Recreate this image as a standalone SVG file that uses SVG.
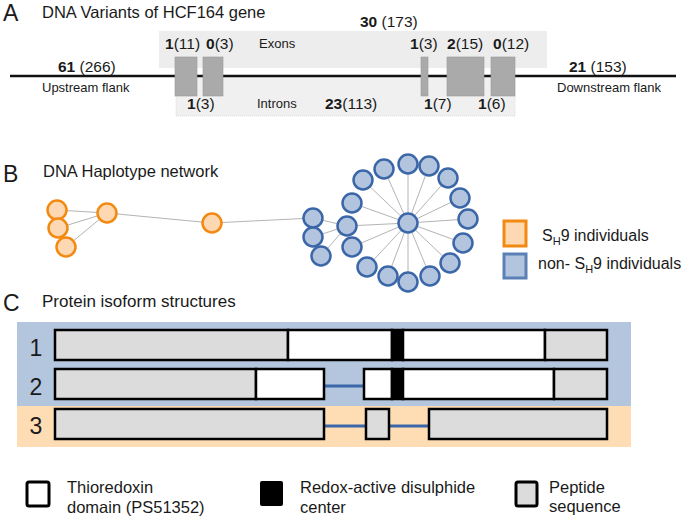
<svg xmlns="http://www.w3.org/2000/svg" width="685" height="519" viewBox="0 0 685 519">
<style>
text{font-family:"Liberation Sans",Arial,sans-serif;fill:#1a1a1a}
.lab{font-size:23px}
.ttl{font-size:16.5px}
.num{font-size:15.5px}
.num tspan.b{font-weight:bold}
.sm{font-size:13px}
.blk{fill:#aaaaaa;stroke:#999;stroke-width:0.6}
.edge{stroke:#b4b4b4;stroke-width:1;fill:none}
.on{fill:#fdd8b2;stroke:#f28a12;stroke-width:2.5}
.bn{fill:#b3c5de;stroke:#3b67a9;stroke-width:2.5}
.seg{stroke:#000;stroke-width:2.5}
.g{fill:#dcdcdc}
.w{fill:#fff}
.k{fill:#000}
.link{stroke:#3b67a9;stroke-width:3}
.leg{font-size:16.5px}
.legb{font-size:16px}
</style>

<!-- Panel A -->
<g id="panelA">
<text class="lab" x="3" y="21">A</text>
<text class="ttl" x="42" y="18">DNA Variants of HCF164 gene</text>
<rect x="159" y="31" width="388" height="37" fill="#ededed"/>
<rect x="176" y="77" width="339" height="39" fill="#f0f0f0" stroke="#d8d8d8" stroke-width="0.8" stroke-dasharray="1,1"/>
<line x1="10" y1="76" x2="676" y2="76" stroke="#111" stroke-width="2.5"/>
<rect class="blk" x="175" y="57" width="22" height="39"/>
<rect class="blk" x="203" y="57" width="20" height="39"/>
<rect class="blk" x="421" y="57" width="7" height="39"/>
<rect class="blk" x="447" y="57" width="37" height="39"/>
<rect class="blk" x="491" y="57" width="24" height="39"/>
<text class="num" x="360" y="27"><tspan class="b">30</tspan> (173)</text>
<text class="num" x="165" y="49"><tspan class="b">1</tspan>(11)</text>
<text class="num" x="206" y="49"><tspan class="b">0</tspan>(3)</text>
<text class="sm" x="259" y="48">Exons</text>
<text class="num" x="410" y="49"><tspan class="b">1</tspan>(3)</text>
<text class="num" x="447" y="49"><tspan class="b">2</tspan>(15)</text>
<text class="num" x="493" y="49"><tspan class="b">0</tspan>(12)</text>
<text class="num" x="58" y="72"><tspan class="b">61</tspan> (266)</text>
<text class="sm" x="42" y="92">Upstream flank</text>
<text class="num" x="569" y="72"><tspan class="b">21</tspan> (153)</text>
<text class="sm" x="557" y="92">Downstream flank</text>
<text class="num" x="187" y="109"><tspan class="b">1</tspan>(3)</text>
<text class="sm" x="257" y="108">Introns</text>
<text class="num" x="325" y="109"><tspan class="b">23</tspan>(113)</text>
<text class="num" x="424" y="109"><tspan class="b">1</tspan>(7)</text>
<text class="num" x="478" y="109"><tspan class="b">1</tspan>(6)</text>
</g>

<!-- Panel B -->
<text class="lab" x="3" y="182">B</text>
<text class="ttl" x="43" y="177">DNA Haplotype network</text>
<g id="connectors">
<line class="edge" x1="57" y1="210" x2="107" y2="213"/>
<line class="edge" x1="58" y1="228" x2="107" y2="213"/>
<line class="edge" x1="66" y1="247" x2="107" y2="213"/>
<line class="edge" x1="107" y1="213" x2="212" y2="223"/>
<line class="edge" x1="212" y1="223" x2="313" y2="218"/>
<line class="edge" x1="313" y1="218" x2="347" y2="226"/>
<line class="edge" x1="313" y1="237" x2="347" y2="226"/>
<line class="edge" x1="321" y1="256" x2="347" y2="226"/>
<line class="edge" x1="408" y1="223" x2="352" y2="203"/>
<line class="edge" x1="408" y1="223" x2="363" y2="180"/>
<line class="edge" x1="408" y1="223" x2="384" y2="169"/>
<line class="edge" x1="408" y1="223" x2="408" y2="164"/>
<line class="edge" x1="408" y1="223" x2="429" y2="166"/>
<line class="edge" x1="408" y1="223" x2="448" y2="178"/>
<line class="edge" x1="408" y1="223" x2="460" y2="198"/>
<line class="edge" x1="408" y1="223" x2="468" y2="219"/>
<line class="edge" x1="408" y1="223" x2="463" y2="243"/>
<line class="edge" x1="408" y1="223" x2="450" y2="263"/>
<line class="edge" x1="408" y1="223" x2="430" y2="276"/>
<line class="edge" x1="408" y1="223" x2="408" y2="282"/>
<line class="edge" x1="408" y1="223" x2="388" y2="276"/>
<line class="edge" x1="408" y1="223" x2="367" y2="267"/>
<line class="edge" x1="408" y1="223" x2="352" y2="247"/>
<line class="edge" x1="408" y1="223" x2="347" y2="226"/>
</g>
<g id="orangeNodes">
<circle id="o1" class="on" cx="57" cy="210" r="9.5"/>
<circle id="o2" class="on" cx="58" cy="228" r="9.5"/>
<circle id="o3" class="on" cx="66" cy="247" r="9.5"/>
<circle id="o4" class="on" cx="107" cy="213" r="9.5"/>
<circle id="o5" class="on" cx="212" cy="223" r="9.5"/>
</g>
<g id="blueNodes">
<circle id="b1" class="bn" cx="313" cy="218" r="9.5"/>
<circle id="b2" class="bn" cx="313" cy="237" r="9.5"/>
<circle id="b3" class="bn" cx="321" cy="256" r="9.5"/>
<circle id="bc" class="bn" cx="408" cy="223" r="9.5"/>
<circle class="bn" cx="352" cy="203" r="9.5"/>
<circle class="bn" cx="363" cy="180" r="9.5"/>
<circle class="bn" cx="384" cy="169" r="9.5"/>
<circle class="bn" cx="408" cy="164" r="9.5"/>
<circle class="bn" cx="429" cy="166" r="9.5"/>
<circle class="bn" cx="448" cy="178" r="9.5"/>
<circle class="bn" cx="460" cy="198" r="9.5"/>
<circle class="bn" cx="468" cy="219" r="9.5"/>
<circle class="bn" cx="463" cy="243" r="9.5"/>
<circle class="bn" cx="450" cy="263" r="9.5"/>
<circle class="bn" cx="430" cy="276" r="9.5"/>
<circle class="bn" cx="408" cy="282" r="9.5"/>
<circle class="bn" cx="388" cy="276" r="9.5"/>
<circle class="bn" cx="367" cy="267" r="9.5"/>
<circle class="bn" cx="352" cy="247" r="9.5"/>
<circle class="bn" cx="347" cy="226" r="9.5"/>
</g>
<g id="legendB">
<rect x="504" y="221" width="22" height="25" fill="#fdd8b2" stroke="#f28a12" stroke-width="3"/>
<rect x="504" y="254" width="22" height="24" fill="#b3c5de" stroke="#5a80b6" stroke-width="3"/>
<text class="legb" x="542" y="241">S<tspan font-size="11" dy="4">H</tspan><tspan dy="-4">9 individuals</tspan></text>
<text class="legb" x="538" y="269">non- S<tspan font-size="11" dy="4">H</tspan><tspan dy="-4">9 individuals</tspan></text>
</g>

<!-- Panel C -->
<text class="lab" x="3" y="311">C</text>
<text class="ttl" x="42" y="307" style="font-size:17px">Protein isoform structures</text>
<rect x="17" y="322" width="614" height="84" fill="#b3c6dd"/>
<rect x="17" y="406" width="614" height="41" fill="#fedcb4"/>
<g id="isoform1">
<text class="lab" x="36" y="356" text-anchor="middle">1</text>
<rect class="seg g" x="55" y="330" width="233" height="30"/>
<rect class="seg w" x="288" y="330" width="104" height="30"/>
<rect class="seg k" x="392" y="330" width="11" height="30"/>
<rect class="seg w" x="403" y="330" width="142" height="30"/>
<rect class="seg g" x="545" y="330" width="62" height="30"/>
</g>
<g id="isoform2">
<text class="lab" x="36" y="395" text-anchor="middle">2</text>
<line class="link" x1="324" y1="386" x2="364" y2="386"/>
<rect class="seg g" x="55" y="369" width="201" height="30"/>
<rect class="seg w" x="256" y="369" width="68" height="30"/>
<rect class="seg w" x="364" y="369" width="28" height="30"/>
<rect class="seg k" x="392" y="369" width="11" height="30"/>
<rect class="seg w" x="403" y="369" width="151" height="30"/>
<rect class="seg g" x="554" y="369" width="53" height="30"/>
</g>
<g id="isoform3">
<text class="lab" x="36" y="434" text-anchor="middle">3</text>
<line class="link" x1="324" y1="426" x2="366" y2="426"/>
<line class="link" x1="389" y1="426" x2="429" y2="426"/>
<rect class="seg g" x="55" y="409" width="269" height="30"/>
<rect class="seg g" x="366" y="409" width="23" height="30"/>
<rect class="seg g" x="429" y="409" width="178" height="30"/>
</g>
<g id="legendC">
<rect x="27" y="482" width="22" height="24" fill="#fff" stroke="#000" stroke-width="3" rx="2"/>
<text class="leg" x="67" y="493">Thioredoxin</text>
<text class="leg" x="67" y="513">domain (PS51352)</text>
<rect x="260" y="481" width="23" height="25" fill="#000" rx="2"/>
<text class="leg" x="300" y="493">Redox-active disulphide</text>
<text class="leg" x="300" y="513">center</text>
<rect x="516" y="482" width="21" height="24" fill="#dcdcdc" stroke="#000" stroke-width="3" rx="2"/>
<text class="leg" x="549" y="493">Peptide</text>
<text class="leg" x="549" y="512">sequence</text>
</g>
</svg>
